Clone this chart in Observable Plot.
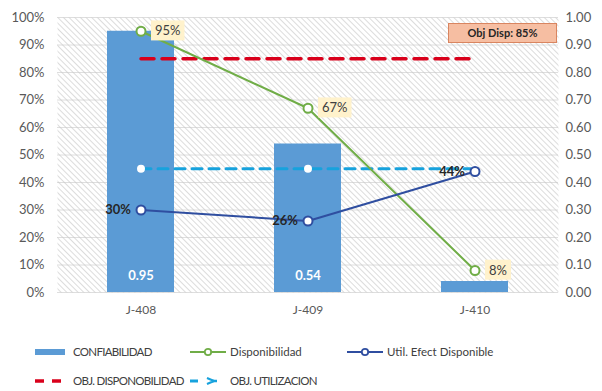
<!DOCTYPE html>
<html><head><meta charset="utf-8">
<script src="https://cdn.jsdelivr.net/npm/d3@7"></script>
<script src="https://cdn.jsdelivr.net/npm/@observablehq/plot@0.6"></script>
<style>
body{margin:0;background:#fff;font-family:Lato,"Liberation Sans",sans-serif;}
#wrap{position:relative;width:602px;height:391px;overflow:hidden;background:#fff;}
.leg{position:absolute;display:flex;align-items:center;font-size:11.5px;color:#404040;white-space:nowrap;line-height:14px;}
.leg.caps span{letter-spacing:-0.7px;}
.leg svg{display:block;}
#objbox{position:absolute;left:448px;top:23px;width:107px;height:18px;background:#f6bea2;border:1px solid #d98560;font-size:11px;font-weight:bold;color:#262626;text-align:center;line-height:18px;}
</style></head><body><div id="wrap"></div>
<script>
const categories = ["J-408", "J-409", "J-410"];
const confiabilidad = [0.95, 0.54, 0.04];
const disponibilidad = [0.95, 0.67, 0.08];
const utilizacion = [0.30, 0.26, 0.44];
const objDisponibilidad = [0.85, 0.85, 0.85];
const objUtilizacion = [0.45, 0.45, 0.45];
const yTicks = [0, 0.1, 0.2, 0.3, 0.4, 0.5, 0.6, 0.7, 0.8, 0.9, 1.0];
const annotation = "Obj Disp: 85%";

const rows = categories.map((c, i) => ({
  cat: c, conf: confiabilidad[i], disp: disponibilidad[i], util: utilizacion[i],
  objD: objDisponibilidad[i], objU: objUtilizacion[i]
}));

const green = "#70ad47", navy = "#2f4ea0", lightBlue = "#17a2dd", red = "#d9001b", barBlue = "#5b9bd5";

const chart = Plot.plot({
  width: 602, height: 325,
  marginLeft: 57, marginRight: 44, marginTop: 17, marginBottom: 33,
  style: {fontFamily: "Lato, 'Liberation Sans', sans-serif", fontSize: "13px", color: "#595959", background: "transparent", overflow: "visible"},
  x: {domain: categories, paddingInner: 0.6, paddingOuter: 0.3, label: null},
  y: {domain: [0, 1], label: null},
  marks: [
    Plot.frame({fill: "url(#hatch)", stroke: null}),
    Plot.gridY(yTicks, {stroke: "#c8c8c8", strokeOpacity: 0.6}),
    Plot.axisY(yTicks, {anchor: "left", tickFormat: d => Math.round(d * 100) + "%", tickSize: 0, tickPadding: 13, label: null}),
    Plot.axisY(yTicks, {anchor: "right", tickFormat: d => d.toFixed(2), tickSize: 0, tickPadding: 7, label: null, textAnchor: "start"}),
    Plot.axisX({tickSize: 0, tickPadding: 13, label: null, fontSize: 12}),
    Plot.barY(rows, {x: "cat", y: "conf", fill: barBlue}),
    Plot.text(rows.filter(d => d.conf > 0.1), {x: "cat", y: () => 0, text: d => d.conf.toFixed(2), dy: -17, fill: "white", fontWeight: "bold", fontSize: 13}),
    Plot.line(rows, {x: "cat", y: "objD", stroke: red, strokeWidth: 3.5, strokeDasharray: "13,8"}),
    Plot.line(rows, {x: "cat", y: "objU", stroke: lightBlue, strokeWidth: 3, strokeDasharray: "10,7"}),
    Plot.dot(rows, {x: "cat", y: "objU", r: 4, fill: "white", stroke: null}),
    Plot.line(rows, {x: "cat", y: "disp", stroke: green, strokeWidth: 2}),
    Plot.dot(rows, {x: "cat", y: "disp", r: 4.5, fill: "white", stroke: green, strokeWidth: 2}),
    Plot.line(rows, {x: "cat", y: "util", stroke: navy, strokeWidth: 2}),
    Plot.dot(rows, {x: "cat", y: "util", r: 4.5, fill: "white", stroke: navy, strokeWidth: 2}),
    Plot.text(rows, {x: "cat", y: "disp", text: d => Math.round(d.disp * 100) + "%", textAnchor: "start", dx: 14, fill: "#404040", fontSize: 13, ariaDescription: "disp-label"}),
    Plot.text(rows, {x: "cat", y: "util", text: d => Math.round(d.util * 100) + "%", textAnchor: "end", dx: -10, fill: "#262626", fontWeight: "bold", fontSize: 13})
  ]
});

const wrap = document.getElementById("wrap");
wrap.appendChild(chart);

// hatch pattern
const svg = d3.select(chart);
const defs = svg.insert("defs", ":first-child");
const pat = defs.append("pattern").attr("id", "hatch").attr("patternUnits", "userSpaceOnUse")
  .attr("width", 4).attr("height", 4).attr("patternTransform", "rotate(-45)");
pat.append("rect").attr("width", 4).attr("height", 4).attr("fill", "white");
pat.append("rect").attr("width", 1).attr("height", 4).attr("fill", "#dcdcdc");

// label backgrounds
svg.selectAll("g").filter(function () { return this.getAttribute("aria-description") === "disp-label"; }).each(function () {
  const node = this;
  const bg = d3.select(node.parentNode).insert("g", () => node).attr("transform", node.getAttribute("transform"));
  d3.select(node).selectAll("text").each(function () {
    const b = this.getBBox();
    bg.append("rect").attr("x", b.x - 4).attr("y", b.y - 2).attr("width", b.width + 8).attr("height", b.height + 4)
      .attr("fill", "#fff2cc").attr("transform", this.getAttribute("transform"));
  });
});

// annotation box
const box = document.createElement("div");
box.id = "objbox"; box.textContent = annotation;
wrap.appendChild(box);

// legend
function legItem(left, top, swatch, label, caps) {
  const d = document.createElement("div");
  d.className = caps ? "leg caps" : "leg";
  d.style.left = left + "px"; d.style.top = (top - 7) + "px";
  d.innerHTML = swatch + `<span>${label}</span>`;
  wrap.appendChild(d);
}
legItem(35, 352, `<svg width="38" height="10"><rect x="0" y="2" width="30" height="6" fill="${barBlue}"/></svg>`, "CONFIABILIDAD", true);
legItem(190, 352, `<svg width="40" height="10"><line x1="0" x2="36" y1="5" y2="5" stroke="${green}" stroke-width="2"/><circle cx="18" cy="5" r="3.2" fill="white" stroke="${green}" stroke-width="1.8"/></svg>`, "Disponibilidad");
legItem(347, 352, `<svg width="40" height="10"><line x1="0" x2="36" y1="5" y2="5" stroke="${navy}" stroke-width="2"/><circle cx="18" cy="5" r="3.2" fill="white" stroke="${navy}" stroke-width="1.8"/></svg>`, "Util. Efect Disponible");
legItem(35, 381, `<svg width="38" height="10"><line x1="0" x2="27" y1="5" y2="5" stroke="${red}" stroke-width="3.5" stroke-dasharray="9,8"/></svg>`, "OBJ. DISPONOBILIDAD", true);
legItem(190, 381, `<svg width="40" height="10"><line x1="0" x2="8" y1="5" y2="5" stroke="${lightBlue}" stroke-width="3"/><path d="M17,2 L24,5 L17,8" fill="none" stroke="${lightBlue}" stroke-width="2.2"/><line x1="22" x2="27" y1="5" y2="5" stroke="${lightBlue}" stroke-width="2.5"/></svg>`, "OBJ. UTILIZACION", true);
</script>
</body></html>
